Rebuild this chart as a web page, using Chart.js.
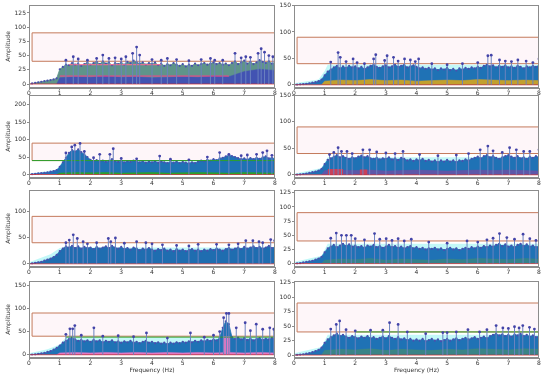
<!DOCTYPE html>
<html>
<head>
<meta charset="utf-8">
<script src="https://cdn.jsdelivr.net/npm/chart.js@4.4.0/dist/chart.umd.min.js"></script>
<style>
  html, body { margin: 0; padding: 0; background: #fff; }
  #wrap { position: relative; width: 550px; height: 376px; overflow: hidden; }
  #wrap canvas { position: absolute; }
</style>
</head>
<body>
<div id="wrap"></div>
<script>
// ---- shared frequency grid (Hz) ----
const freqs = [
  0, 0.1, 0.2, 0.3, 0.4, 0.5, 0.6, 0.7, 0.8, 0.9,
  1.0, 1.1, 1.2, 1.3, 1.4, 1.5, 1.6, 1.7, 1.8, 1.9,
  2.0, 2.1, 2.2, 2.3, 2.4, 2.5, 2.6, 2.7, 2.8, 2.9,
  3.0, 3.1, 3.2, 3.3, 3.4, 3.5, 3.6, 3.7, 3.8, 3.9,
  4.0, 4.1, 4.2, 4.3, 4.4, 4.5, 4.6, 4.7, 4.8, 4.9,
  5.0, 5.1, 5.2, 5.3, 5.4, 5.5, 5.6, 5.7, 5.8, 5.9,
  6.0, 6.1, 6.2, 6.3, 6.4, 6.5, 6.6, 6.7, 6.8, 6.9,
  7.0, 7.1, 7.2, 7.3, 7.4, 7.5, 7.6, 7.7, 7.8, 7.9,
  8.0
];
const xTicks = [0, 1, 2, 3, 4, 5, 6, 7, 8];

// ---- dense spectrum envelope per panel ----
const amp1 = [0,1,2,3,4,5,6,7,8,10, 26,30,34,33,37,34,36,32,35,38, 34,37,39,35,40,36,38,33,37,35,
  38,34,39,37,41,38,36,38,34,37, 35,38,33,36,32,35,33,37,34,32, 35,31,34,32,36,33,35,37,34,36,
  38,35,37,34,36,33,37,40,35,38, 41,36,39,35,38,42,39,37,40,36, 38];
const amp2 = [0,0.5,1,1.5,2,3,4,5,7,10, 18,25,29,33,36,31,35,32,36,33, 35,31,34,30,33,36,38,34,32,35,
  37,33,35,38,34,36,38,33,35,37, 34,31,33,30,32,29,31,28,31,29, 32,28,30,27,31,29,32,30,33,31,
  34,32,36,38,35,37,33,36,34,37, 33,35,32,36,34,31,35,33,36,34, 37];
const amp3 = [0,1,2,3,4,5,6,8,10,13, 22,35,48,62,70,66,72,64,58,50, 42,38,41,37,40,36,39,44,38,36,
  39,35,38,36,40,37,35,38,34,37, 35,38,34,37,35,33,36,34,37,33, 36,34,32,35,33,37,40,38,42,40,
  44,41,46,48,52,55,53,50,47,44, 46,43,47,44,48,45,49,52,46,48, 45];
const amp4 = [0,0.5,1,1.5,2.5,3.5,5,6,8,11, 20,28,31,34,37,33,35,32,30,33, 31,34,36,33,35,31,30,32,29,31,
  30,33,29,31,28,32,30,27,29,26, 29,27,30,26,28,25,27,24,27,25, 28,25,27,24,27,26,29,27,30,32,
  34,31,35,37,33,35,32,30,33,35, 37,34,32,35,31,33,30,34,32,35, 33];
const amp5 = [0,1,2,3,4,6,8,10,13,17, 24,29,33,31,34,30,33,29,32,30, 31,28,32,29,31,33,30,34,31,29,
  32,28,30,27,31,29,26,29,27,30, 27,25,28,26,29,25,27,24,28,25, 27,24,26,28,25,27,24,27,25,28,
  26,29,27,25,28,30,27,29,31,28, 32,29,31,33,30,32,29,31,34,30, 32];
const amp6 = [0,0.5,1,2,3,4,5,7,9,12, 20,27,30,33,29,32,35,31,34,30, 32,29,31,28,32,30,33,29,31,28,
  30,33,29,31,28,30,27,29,31,27, 29,26,28,25,27,26,28,25,27,24, 26,28,25,27,24,26,28,26,29,27,
  30,28,31,29,32,30,33,35,31,34, 30,32,29,33,35,31,34,30,32,29, 31];
const amp7 = [0,0.5,1,2,3,4,6,8,11,15, 20,26,30,34,37,33,30,32,29,31, 28,32,29,31,27,30,28,31,27,29,
  26,29,27,30,26,28,25,28,30,26, 28,25,27,24,26,23,26,24,27,25, 28,26,29,27,30,28,31,29,32,30,
  33,31,36,58,72,66,38,34,37,33, 36,32,35,31,34,36,32,35,33,36, 34];
const amp8 = [0,0.5,1,1.5,2.5,3.5,5,7,9,13, 21,27,31,34,37,33,35,32,30,33, 31,29,32,30,33,29,31,28,30,32,
  29,33,30,28,31,27,29,26,28,25, 27,25,28,24,26,28,25,27,24,26, 28,25,27,29,26,28,30,27,29,31,
  28,30,32,29,33,35,37,34,36,33, 35,32,36,34,37,33,35,32,34,31, 33];

// ---- tall stems (peaks) per panel ----
const peakF1 = [1.2,1.44,1.6,1.9,2.2,2.4,2.6,2.8,3.0,3.15,3.37,3.5,3.6,4.0,4.3,4.5,4.8,5.2,5.6,5.9,6.04,6.3,6.7,6.9,7.05,7.2,7.45,7.55,7.66,7.8,7.93];
const peakA1 = [42,48,44,42,45,51,45,46,44,48,54,65,51,43,42,45,43,41,43,45,42,42,54,46,48,47,54,62,56,50,48];
const peakF2 = [1.2,1.44,1.51,1.7,1.93,2.06,2.3,2.6,2.67,2.96,3.04,3.25,3.4,3.61,3.8,3.96,4.07,4.5,5.0,5.5,6.0,6.33,6.44,6.71,6.9,7.1,7.31,7.58,7.8,8.0];
const peakA2 = [43,61,52,44,49,42,40,49,57,46,55,52,45,49,47,44,49,40,38,40,42,55,56,47,45,44,47,45,42,49];
const peakF3 = [1.2,1.39,1.49,1.66,1.8,2.1,2.3,2.63,2.74,3.0,3.5,4.25,4.6,5.2,5.8,6.2,6.5,6.9,7.1,7.4,7.6,7.74,7.9];
const peakA3 = [62,79,84,89,66,48,58,58,74,46,45,53,44,42,50,63,58,54,56,58,63,68,55];
const peakF4 = [1.16,1.3,1.44,1.55,1.73,1.9,2.25,2.47,2.7,3.0,3.3,3.56,4.1,4.7,5.3,5.7,6.08,6.33,6.5,6.8,7.04,7.26,7.5,7.7,8.0];
const peakA4 = [38,42,51,44,44,40,47,47,43,41,40,44,38,36,37,40,47,54,45,42,51,47,44,44,47];
const peakF5 = [1.2,1.31,1.44,1.57,1.76,1.9,2.2,2.58,2.66,2.81,3.1,3.5,3.8,4.0,4.34,4.8,5.2,5.5,6.1,6.5,6.8,7.05,7.28,7.48,7.6,7.86,7.99];
const peakA5 = [40,45,55,48,42,38,40,48,42,49,39,42,40,38,36,35,34,37,37,36,38,44,44,42,40,46,44];
const peakF6 = [1.2,1.38,1.55,1.71,1.87,2.0,2.3,2.63,2.8,3.01,3.2,3.4,3.6,3.83,4.4,5.0,5.65,6.0,6.3,6.5,6.71,6.95,7.2,7.48,7.7,7.9];
const peakA6 = [45,54,50,50,50,44,42,53,43,44,41,44,40,43,38,36,40,38,42,45,53,46,43,52,44,41];
const peakF7 = [1.2,1.33,1.42,1.49,1.7,2.11,2.4,2.9,3.4,3.82,4.5,5.25,5.7,6.0,6.2,6.33,6.42,6.5,6.74,7.03,7.2,7.39,7.6,7.83,7.96];
const peakA7 = [44,56,56,63,42,58,40,41,39,47,36,47,38,42,50,80,89,89,58,69,52,66,55,58,55];
const peakF8 = [1.2,1.38,1.49,1.7,2.0,2.5,2.9,3.12,3.4,3.7,4.3,4.86,5.0,5.3,5.68,6.06,6.3,6.6,6.82,7.0,7.2,7.35,7.47,7.69,7.85];
const peakA8 = [45,53,59,44,42,43,43,56,53,40,37,39,39,40,44,40,44,51,47,46,49,47,51,48,45];

// ---- low coloured layers inside the spectrum ----
const lowF = [0.9,1.0,1.5,2.0,2.5,3.0,3.5,4.0,4.5,5.0,5.5,6.0,6.5,7.0,7.5,8.0];
const low1 = [0,11,13,12,14,12,13,11,12,13,12,14,13,22,26,24];
const low2 = [0,7,9,8,10,8,9,7,8,9,8,10,9,8,9,8];
const low3 = [0,4,6,5,6,4,5,6,4,5,6,5,4,6,5,4];
const low4 = [0,8,9,8,9,7,8,9,8,7,8,9,8,9,8,7];
const low6 = [0,6,8,7,9,6,8,7,6,8,7,9,8,7,9,8];
const low7 = [0,4,5,4,5,4,5,4,5,4,5,4,5,4,5,4];
const low8 = [0,8,10,9,11,8,10,9,8,10,9,11,10,9,11,10];

// patches (start, end, height)
const patchStart4 = [1.1, 2.15], patchEnd4 = [1.6, 2.4], patchA4 = [11, 10];
const patchStart7 = [6.3], patchEnd7 = [6.55], patchA7 = [40];

// ---- light cyan bands behind the spectrum ----
const bandF2 = [0,0.8,1.0,1.1,8], bandA2 = [3,10,26,38,38];
const bandF3 = [0,0.9,1.1,8],     bandA3 = [2,14,38,38];
const bandF4 = [0,0.9,1.1,8],     bandA4 = [2,13,33,33];
const bandF5 = [0,0.7,1.0,1.1,8], bandA5 = [3,18,30,31,31];
const bandF6 = [0,0.9,1.1,8],     bandA6 = [3,14,35,35];
const bandF7 = [0,0.6,1.0,1.2,8], bandA7 = [3,12,22,37,37];
const bandF8 = [0,0.9,1.1,8],     bandA8 = [3,14,35,35];

// ---- threshold box (freq range, amplitude range) ----
const boxF = [0.1, 8];
const boxA = [40, 90];

// ---- y axis limits per panel ----
const yMins  = [-7, -6, -10, -6, -6, -6, -7, -5];
const yMaxs  = [139, 151, 228, 150, 140, 130, 159, 128];
const ySteps = [25, 50, 50, 50, 50, 25, 50, 25];

// ---- layout (pixels) ----
const colLeft = [0, 276], colWidth = [280, 274], axisWidth = [29, 18], padRight = [5, 11];
const rowTop = [0, 90, 185, 276], rowHeight = [100, 100, 94, 100], axisHeight = [12, 12, 12, 18];

Chart.defaults.font.family = "'DejaVu Sans', sans-serif";
Chart.defaults.font.size = 6;
Chart.defaults.color = '#333';

const C0 = '#1f72b5';
const panels = [
  { amp: amp1, peakF: peakF1, peakA: peakA1, bulk: '#5f948a', low: low1, lowColor: '#4253b2',
    bandF: null, bandA: null, patches: null,
    lines: [{ f: [1.0, 6.5], a: [14, 14], color: '#ff3d8b' }, { f: [1.3, 4.3], a: [34, 34], color: '#ff6a8f' }] },
  { amp: amp2, peakF: peakF2, peakA: peakA2, bulk: C0, low: low2, lowColor: '#c2a02e',
    bandF: bandF2, bandA: bandA2, patches: null, lines: [] },
  { amp: amp3, peakF: peakF3, peakA: peakA3, bulk: C0, low: low3, lowColor: '#2ca02c',
    bandF: bandF3, bandA: bandA3, patches: null,
    lines: [{ f: boxF, a: [boxA[0], boxA[0]], color: '#2ca02c' }] },
  { amp: amp4, peakF: peakF4, peakA: peakA4, bulk: C0, low: low4, lowColor: 'rgba(110,80,165,0.8)',
    bandF: bandF4, bandA: bandA4, patches: { s: patchStart4, e: patchEnd4, a: patchA4, color: '#c8405a' }, lines: [] },
  { amp: amp5, peakF: peakF5, peakA: peakA5, bulk: '#1f6db0', low: null, lowColor: null,
    bandF: bandF5, bandA: bandA5, patches: null, lines: [] },
  { amp: amp6, peakF: peakF6, peakA: peakA6, bulk: C0, low: low6, lowColor: 'rgba(80,150,90,0.45)',
    bandF: bandF6, bandA: bandA6, patches: null, lines: [] },
  { amp: amp7, peakF: peakF7, peakA: peakA7, bulk: C0, low: low7, lowColor: '#e377c2',
    bandF: bandF7, bandA: bandA7, patches: { s: patchStart7, e: patchEnd7, a: patchA7, color: '#e377c2' },
    lines: [{ f: [1.2, 8], a: [38, 38], color: '#2ca02c' }] },
  { amp: amp8, peakF: peakF8, peakA: peakA8, bulk: C0, low: low8, lowColor: 'rgba(90,155,80,0.45)',
    bandF: bandF8, bandA: bandA8, patches: null,
    lines: [{ f: [2.0, 8], a: [40, 40], color: '#2ca02c' }] }
];

function pts(xs, ys) { return xs.map((x, i) => ({ x: x, y: ys[i] })); }

function stems(xs, ys) {
  const out = [];
  xs.forEach((x, i) => { out.push({ x: x, y: 0 }, { x: x, y: ys[i] }, { x: x, y: null }); });
  return out;
}

function patchPts(p) {
  const out = [];
  p.s.forEach((s, i) => {
    out.push({ x: s, y: 0 }, { x: s, y: p.a[i] }, { x: p.e[i], y: p.a[i] }, { x: p.e[i], y: 0 });
  });
  return out;
}

// matplotlib-like frame on all four sides
const framePlugin = {
  id: 'frame',
  afterDatasetsDraw(chart) {
    const { ctx, chartArea: a } = chart;
    ctx.save();
    ctx.strokeStyle = '#8c8c8c';
    ctx.lineWidth = 1;
    ctx.strokeRect(Math.round(a.left) + 0.5, Math.round(a.top) + 0.5,
      Math.round(a.width) - 1, Math.round(a.height) - 1);
    ctx.restore();
  }
};

function buildDatasets(p) {
  const ds = [];
  // top-most first
  ds.push({ data: pts(p.peakF, p.peakA), showLine: false, pointRadius: 1.4,
    pointBackgroundColor: '#4343a8', pointBorderWidth: 0 });
  ds.push({ data: stems(p.peakF, p.peakA), borderColor: '#6b82bf', borderWidth: 1,
    pointRadius: 0, spanGaps: false });
  p.lines.forEach(l => ds.push({ data: pts(l.f, l.a), borderColor: l.color, borderWidth: 1, pointRadius: 0 }));
  ds.push({ data: pts([0, 8], [0, 0]), borderColor: 'rgba(214,39,40,0.7)', borderWidth: 1, pointRadius: 0 });
  if (p.patches) {
    ds.push({ data: patchPts(p.patches), fill: 'origin', backgroundColor: p.patches.color,
      borderWidth: 0, pointRadius: 0 });
  }
  if (p.low) {
    ds.push({ data: pts(lowF, p.low), fill: 'origin', backgroundColor: p.lowColor,
      borderColor: p.lowColor, borderWidth: 0.5, pointRadius: 0 });
  }
  ds.push({ data: pts(freqs, p.amp), fill: 'origin', backgroundColor: p.bulk, borderColor: p.bulk,
    borderWidth: 0.8, pointRadius: 1.1, pointBackgroundColor: '#4a4fae', pointBorderWidth: 0 });
  if (p.bandF) {
    ds.push({ data: pts(p.bandF, p.bandA), fill: 'origin', backgroundColor: '#c2f8f8',
      borderWidth: 0, pointRadius: 0 });
  }
  // threshold box: outline, then pale fill
  ds.push({ data: pts([boxF[0], boxF[0], boxF[1], boxF[1], boxF[0]], [boxA[0], boxA[1], boxA[1], boxA[0], boxA[0]]),
    borderColor: '#c47a5c', borderWidth: 1, pointRadius: 0 });
  ds.push({ data: pts(boxF, [boxA[1], boxA[1]]), fill: { value: boxA[0] },
    backgroundColor: '#fef6f9', borderWidth: 0, pointRadius: 0 });
  return ds;
}

const wrap = document.getElementById('wrap');

panels.forEach((p, i) => {
  const row = Math.floor(i / 2), col = i % 2;
  const canvas = document.createElement('canvas');
  canvas.width = colWidth[col];
  canvas.height = rowHeight[row];
  canvas.style.left = colLeft[col] + 'px';
  canvas.style.top = rowTop[row] + 'px';
  wrap.appendChild(canvas);

  const lastRow = row === 3;
  new Chart(canvas.getContext('2d'), {
    type: 'line',
    data: { datasets: buildDatasets(p) },
    options: {
      responsive: false,
      animation: false,
      events: [],
      layout: { padding: { top: 5, right: padRight[col], left: 0, bottom: 0 } },
      plugins: { legend: { display: false }, tooltip: { enabled: false } },
      elements: { line: { tension: 0 } },
      scales: {
        x: {
          type: 'linear', min: 0, max: 8, offset: false,
          afterFit: s => { s.height = axisHeight[row]; },
          afterBuildTicks: s => { s.ticks = xTicks.map(v => ({ value: v })); },
          grid: { drawOnChartArea: false, drawTicks: true, tickLength: 2, color: '#8c8c8c' },
          border: { display: true, color: '#8c8c8c' },
          ticks: { padding: 0, maxRotation: 0, autoSkip: false, font: { size: 6 } },
          title: { display: lastRow, text: 'Frequency (Hz)', padding: { top: 0, bottom: 2 }, font: { size: 6 } }
        },
        y: {
          type: 'linear', min: yMins[i], max: yMaxs[i],
          afterFit: s => { s.width = axisWidth[col]; },
          grid: { drawOnChartArea: false, drawTicks: true, tickLength: 2, color: '#8c8c8c' },
          border: { display: true, color: '#8c8c8c' },
          ticks: { stepSize: ySteps[i], includeBounds: false, padding: 1, font: { size: 6 } },
          title: { display: col === 0, text: 'Amplitude', padding: { top: 5, bottom: 0 }, font: { size: 6 } }
        }
      }
    },
    plugins: [framePlugin]
  });
});
</script>
</body>
</html>
